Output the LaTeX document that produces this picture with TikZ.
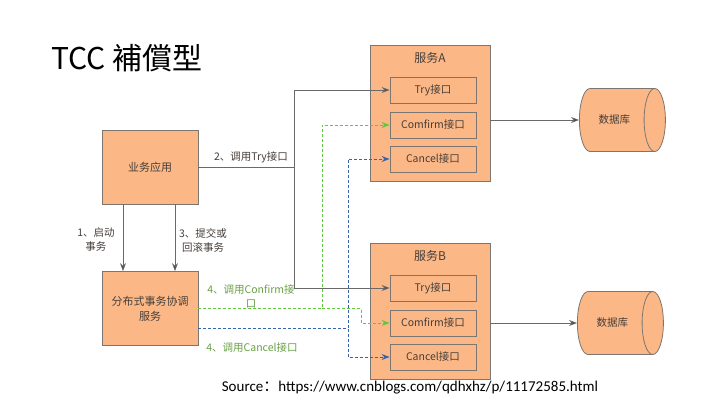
\documentclass[tikz,border=0pt]{standalone}
\usepackage{fontspec}
\setmainfont{Carlito}
\newfontfamily\cjk{Noto Sans CJK SC}
\newfontfamily\cjktc{Noto Sans CJK TC}
\usetikzlibrary{positioning,shapes.geometric,arrows.meta}
\definecolor{boxfill}{RGB}{251,184,134}
\definecolor{boxline}{RGB}{125,118,112}
\definecolor{txtgray}{RGB}{70,62,58}
\definecolor{wire}{RGB}{105,105,105}
\definecolor{greenwire}{RGB}{95,200,60}
\definecolor{greentip}{RGB}{60,180,40}
\definecolor{bluewire}{RGB}{55,100,175}
\definecolor{labelgreen}{RGB}{105,160,70}

\begin{document}
\begin{tikzpicture}[x=1pt,y=-1pt,
                box/.style={draw=boxline,fill=boxfill,line width=0.8pt,
                  font=\cjk\fontsize{10.5}{14}\selectfont,text=txtgray,align=center},
                appbox/.style={box,minimum width=96pt,minimum height=74pt},
                svcbox/.style={box,minimum width=120pt,minimum height=136pt},
                ifbox/.style={box,minimum width=86pt,minimum height=26pt},
                dbnode/.style={box,shape=cylinder,aspect=1.3,shape border rotate=0,
                  cylinder uses custom fill,cylinder body fill=boxfill,cylinder end fill=boxfill,
                  minimum width=63pt,minimum height=86pt,anchor=west},
                wirearrow/.style={draw=wire,line width=0.8pt,-{Stealth[length=8pt,width=6pt,fill=black!80]}},
                greenarrow/.style={draw=greenwire,dash pattern=on 3pt off 2pt,line width=1pt,
                  -{Stealth[length=8pt,width=6pt,fill=greentip]}},
                bluearrow/.style={draw=bluewire,dash pattern=on 3pt off 2pt,line width=1pt,
                  -{Stealth[length=8pt,width=6pt,fill=bluewire]}},
                steplabel/.style={font=\cjk\fontsize{10.5}{14}\selectfont,text=txtgray,align=center},
                greenlabel/.style={steplabel,text=labelgreen}
                ]
  \useasboundingbox (0,0) rectangle (713,402);
  % title
  \node[anchor=west,font=\cjktc\fontsize{30}{34}\selectfont] (title) at (48,58) {TCC 補償型};
  % left side
  \node[appbox,font=\cjk\fontsize{11}{15}\selectfont] (app) at (150,167) {业务应用};
  \node[appbox,font=\cjk\fontsize{11}{15}\selectfont] (coord) at (150,308.5) {分布式事务协调\\服务};
  % services
  \node[svcbox] (svcA) at (430,113) {};
  \node[below=4pt of svcA.north,steplabel,font=\cjk\fontsize{12}{14}\selectfont] (svcAname) {服务A};
  \node[ifbox] (tryA) at (433,90) {Try接口};
  \node[ifbox] (confirmA) at (433,125) {Comfirm接口};
  \node[ifbox] (cancelA) at (433,159) {Cancel接口};
  \node[svcbox] (svcB) at (430,311.5) {};
  \node[below=4pt of svcB.north,steplabel,font=\cjk\fontsize{12}{14}\selectfont] (svcBname) {服务B};
  \node[ifbox] (tryB) at (433,288) {Try接口};
  \node[ifbox] (confirmB) at (433,323) {Comfirm接口};
  \node[ifbox] (cancelB) at (433,357) {Cancel接口};
  % databases
  \node[dbnode] (dbA) at (579,120) {数据库};
  \node[dbnode] (dbB) at (577,323) {数据库};
  % buses
  \coordinate (busT) at (294,0);
  \coordinate (busC) at (322,0);
  \coordinate (busC2) at (361,0);
  \coordinate (busX) at (348,0);
  \coordinate (cOut) at ([yshift=-20pt]coord.east);
  % start and finish
  \draw[wirearrow] ([xshift=-27pt]app.south) -- ([xshift=-27pt]coord.north);
  \draw[wirearrow] ([xshift=25pt]app.south) -- ([xshift=25pt]coord.north);
  \node[steplabel] (lbl1) at (96,240) {1、启动\\事务};
  \node[steplabel] (lbl3) at (203,240) {3、提交或\\回滚事务};
  % try
  \draw[draw=wire,line width=0.8pt] (app.east) -- (app.east -| busT);
  \draw[wirearrow] (tryB.west -| busT) |- (tryA.west);
  \draw[wirearrow] (tryB.west -| busT) -- (tryB.west);
  \node[steplabel] (lbl2) at (251,157) {2、调用Try接口};
  % confirm
  \draw[greenarrow] (coord.east) -| (busC |- confirmA.west) -- (confirmA.west);
  \draw[greenarrow] (coord.east -| busC) -| (busC2 |- confirmB.west) -- (confirmB.west);
  \node[greenlabel] (lbl4a) at (251,296) {4、调用Confirm接\\口};
  % cancel
  \draw[bluearrow] (cOut) -| (busX |- cancelA.west) -- (cancelA.west);
  \draw[bluearrow] (cOut -| busX) |- (cancelB.west);
  \node[greenlabel] (lbl4b) at (252,348) {4、调用Cancel接口};
  % databases
  \draw[wirearrow] (svcA.east |- dbA.west) -- (dbA.west);
  \draw[wirearrow] (svcB.east |- dbB.west) -- (dbB.west);
  % source
  \node[font=\fontsize{15}{17}\selectfont] (source) at (410,388) {Source{\cjk ：}https://www.cnblogs.com/qdhxhz/p/11172585.html};
\end{tikzpicture}
\end{document}
